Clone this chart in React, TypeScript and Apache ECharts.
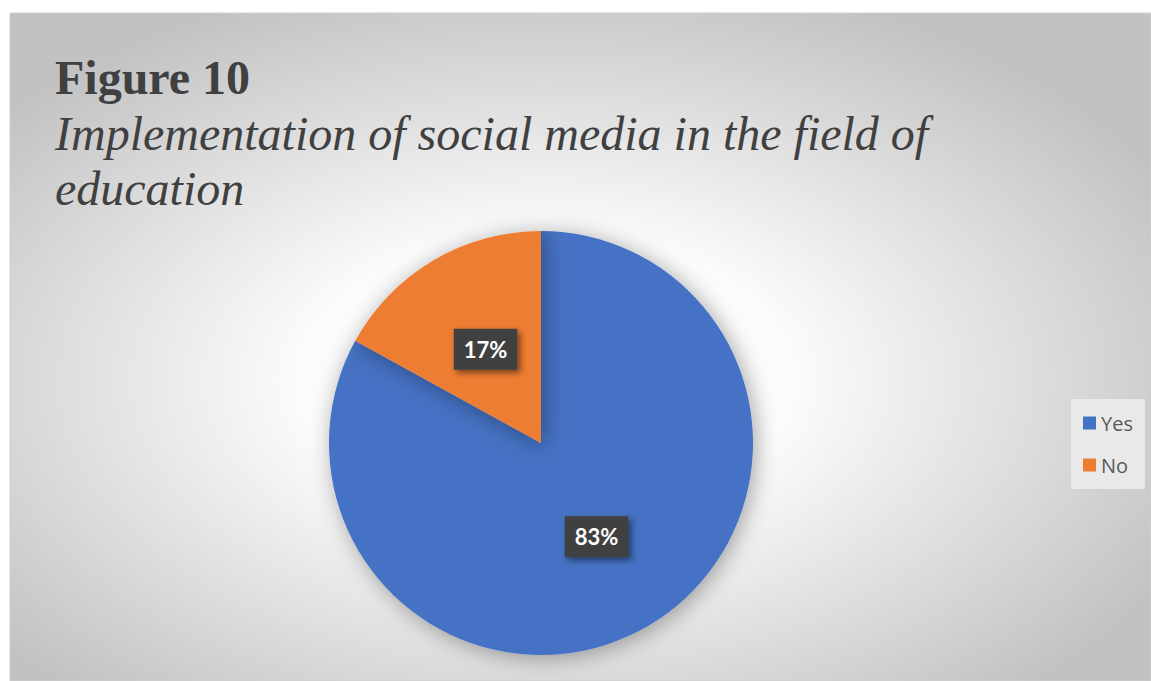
import React, { useEffect, useRef } from "react";
import * as echarts from "echarts";

const categories = ["Yes", "No"];
const values = [83, 17];
const colors = ["#4472C4", "#ED7D31"];
const titleLine1 = "Figure 10";
const titleLine2 = "Implementation of social media in the field of";
const titleLine3 = "education";

export default function App() {
  const ref = useRef<HTMLDivElement>(null);
  useEffect(() => {
    if (!ref.current) return;
    const chart = echarts.init(ref.current, undefined, { renderer: "svg" });
    const data = categories.map((c, i) => ({
      name: c,
      value: values[i],
      itemStyle: { color: colors[i] },
    }));
    chart.setOption({
      animation: false,
      backgroundColor: "#ffffff",
      graphic: [
        {
          type: "rect",
          z: -10,
          shape: { x: 10, y: 13, width: 1141, height: 668 },
          style: {
            fill: new echarts.graphic.RadialGradient(0.47, 0.55, 0.62, [
              { offset: 0, color: "#ffffff" },
              { offset: 0.35, color: "#fbfbfb" },
              { offset: 1, color: "#c2c2c2" },
            ]),
            stroke: "#cfcfcf",
            lineWidth: 1,
          },
        },
        {
          type: "text",
          left: 55,
          top: 53,
          style: {
            text: titleLine1,
            font: "bold 48px 'Liberation Serif', serif",
            fill: "#404040",
          },
        },
        {
          type: "text",
          left: 55,
          top: 109,
          style: {
            text: titleLine2,
            font: "italic 48px 'Liberation Serif', serif",
            fill: "#404040",
          },
        },
        {
          type: "text",
          left: 55,
          top: 164,
          style: {
            text: titleLine3,
            font: "italic 48px 'Liberation Serif', serif",
            fill: "#404040",
          },
        },
      ],
      legend: {
        orient: "vertical",
        left: 1071,
        top: 399,
        data: categories,
        icon: "rect",
        itemWidth: 13,
        itemHeight: 13,
        itemGap: 22,
        padding: [14, 12, 14, 12],
        backgroundColor: "#e9e9e9",
        textStyle: {
          fontFamily: "'Open Sans', sans-serif",
          fontSize: 20,
          color: "#595959",
        },
      },
      series: [
        {
          type: "pie",
          center: [541, 443],
          radius: 212,
          startAngle: 90,
          clockwise: true,
          data,
          itemStyle: {
            shadowBlur: 22,
            shadowColor: "rgba(0,0,0,0.35)",
            shadowOffsetX: 3,
            shadowOffsetY: 3,
          },
          label: {
            position: "inside",
            formatter: "{d}%",
            fontFamily: "Lato, 'Open Sans', sans-serif",
            fontWeight: "bold",
            fontSize: 22,
            color: "#ffffff",
            backgroundColor: "#404040",
            padding: [10, 10, 9, 10],
            shadowBlur: 6,
            shadowColor: "rgba(0,0,0,0.5)",
            shadowOffsetX: 3,
            shadowOffsetY: 3,
          },
          labelLine: { show: false },
          emphasis: { disabled: true },
        },
      ],
    });
    return () => chart.dispose();
  }, []);
  return (
    <div
      ref={ref}
      style={{ position: "absolute", left: 0, top: 0, width: 1151, height: 681 }}
    />
  );
}
